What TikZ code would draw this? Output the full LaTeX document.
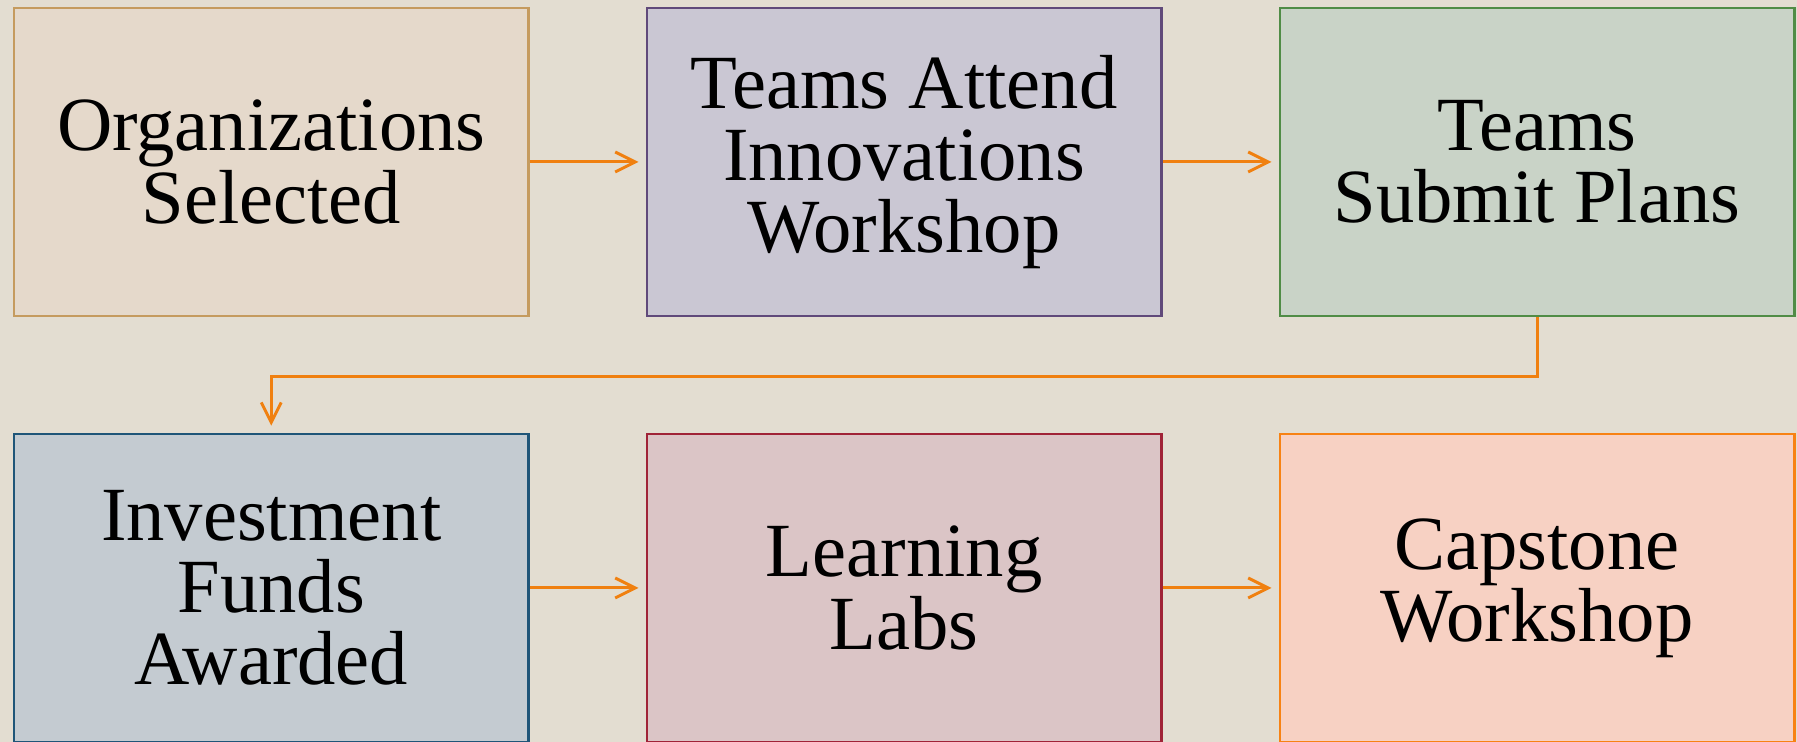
\documentclass[tikz,border=0pt]{standalone}
\usepackage{fontspec}
\setmainfont{Liberation Serif}
\usetikzlibrary{arrows.meta}

\definecolor{bgcol}{RGB}{227,221,209}
\definecolor{flowarrow}{RGB}{240,128,16}
\definecolor{fillA}{RGB}{229,217,203}\definecolor{lineA}{RGB}{197,155,95}
\definecolor{fillB}{RGB}{202,199,211}\definecolor{lineB}{RGB}{96,73,122}
\definecolor{fillC}{RGB}{201,211,199}\definecolor{lineC}{RGB}{80,140,70}
\definecolor{fillD}{RGB}{196,203,209}\definecolor{lineD}{RGB}{31,85,120}
\definecolor{fillE}{RGB}{219,197,198}\definecolor{lineE}{RGB}{160,35,55}
\definecolor{fillF}{RGB}{247,209,195}\definecolor{lineF}{RGB}{247,130,20}

\tikzset{
  stagebox/.style={draw, line width=0.025cm, minimum width=5.145cm,
    minimum height=3.08cm, inner sep=0pt, align=center,
    font=\fontsize{21.8}{20.5}\selectfont},
  flow/.style={draw=flowarrow, line width=0.03cm,
    -{Straight Barb[length=0.2cm, width=0.2cm]}}
}

\begin{document}
\begin{tikzpicture}
  \useasboundingbox (0,0) rectangle (17.97,7.42);
  \fill[bgcol] (0,0) rectangle (17.97,7.42);
  \clip (0,0) rectangle (17.97,7.42);

  % top row
  \node[stagebox, fill=fillA, draw=lineA] (org) at (2.7125,5.80) {Organizations\\Selected};
  \node[stagebox, fill=fillB, draw=lineB] (attend) at (9.04,5.80) {Teams Attend\\Innovations\\Workshop};
  \node[stagebox, fill=fillC, draw=lineC] (plans) at (15.37,5.80) {Teams\\Submit Plans};

  % bottom row
  \node[stagebox, fill=fillD, draw=lineD] (funds) at (2.7125,1.54) {Investment\\Funds\\Awarded};
  \node[stagebox, fill=fillE, draw=lineE] (labs) at (9.04,1.54) {Learning\\Labs};
  \node[stagebox, fill=fillF, draw=lineF] (cap) at (15.37,1.54) {Capstone\\Workshop};

  % connectors
  \draw[flow, shorten >=0.07cm] (org) -- (attend);
  \draw[flow, shorten >=0.07cm] (attend) -- (plans);
  \draw[flow, shorten >=0.07cm] (plans.south) -- ++(0,-0.59) -| (funds.north);
  \draw[flow, shorten >=0.07cm] (funds) -- (labs);
  \draw[flow, shorten >=0.07cm] (labs) -- (cap);
\end{tikzpicture}
\end{document}
